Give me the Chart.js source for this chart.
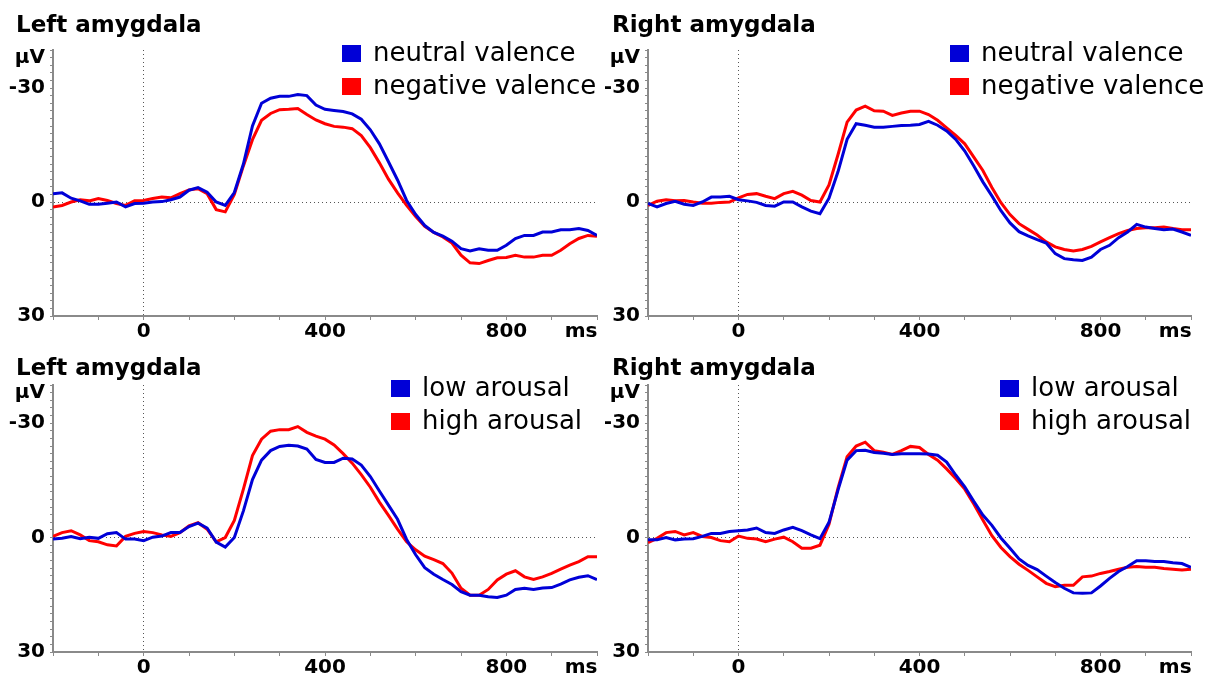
<!DOCTYPE html>
<html>
<head>
<meta charset="utf-8">
<script src="https://cdn.jsdelivr.net/npm/chart.js@4.4.1/dist/chart.umd.min.js"></script>
<style>
  html, body { margin: 0; padding: 0; background: #fff; width: 1210px; height: 678px; overflow: hidden; }
  body { position: relative; }
  canvas { position: absolute; }
</style>
</head>
<body>
<canvas id="c1" width="605" height="345" style="left:0;top:0"></canvas>
<canvas id="c2" width="605" height="345" style="left:605px;top:0"></canvas>
<canvas id="c3" width="605" height="342" style="left:0;top:336px"></canvas>
<canvas id="c4" width="605" height="342" style="left:605px;top:336px"></canvas>
<script>
// time points (ms)
const times = [-200,-180,-160,-140,-120,-100,-80,-60,-40,-20,
  0,20,40,60,80,100,120,140,160,180,
  200,220,240,260,280,300,320,340,360,380,
  400,420,440,460,480,500,520,540,560,580,
  600,620,640,660,680,700,720,740,760,780,
  800,820,840,860,880,900,920,940,960,980,1000];

// amplitudes in µV (negative up)
const leftNeutral = [-2.2,-2.4,-1.0,-0.3,0.6,0.6,0.3,0,1.3,0.4,
  0.3,0,-0.1,-0.6,-1.3,-3.1,-3.8,-2.6,0,0.9,
  -2.5,-10,-20,-26,-27.3,-27.8,-27.8,-28.3,-28,-25.5,
  -24.4,-24.1,-23.8,-23.2,-21.8,-19,-15.3,-10.6,-5.8,-0.4,
  3.3,6.2,8,9,10.3,12.3,12.9,12.3,12.7,12.7,
  11.4,9.6,8.8,8.8,7.9,7.9,7.3,7.3,7,7.5,8.8];
const leftNegative = [1.3,0.9,0,-0.6,-0.3,-0.9,-0.4,0.4,0.9,-0.3,
  -0.4,-0.9,-1.3,-1.1,-2.2,-3.2,-3.5,-2.2,2.0,2.6,
  -2,-9.5,-16.4,-21.5,-23.3,-24.3,-24.4,-24.6,-23,-21.6,
  -20.6,-19.9,-19.7,-19.3,-17.5,-14.3,-10.3,-6,-2.4,0.9,
  3.8,6.4,8,9.2,10.8,14,16,16.2,15.4,14.7,
  14.6,14,14.5,14.5,14,14,12.7,11,9.6,8.8,9];
const rightNeutral = [0.4,1.3,0.4,-0.2,0.6,0.9,0,-1.3,-1.3,-1.5,
  -0.6,-0.3,0.1,0.9,1.1,0,0,1.3,2.4,3.1,
  -1,-8,-16.5,-20.6,-20.2,-19.7,-19.7,-19.9,-20.1,-20.2,
  -20.4,-21.2,-20.2,-18.7,-16.5,-13.4,-9.5,-5.3,-1.6,2.3,
  5.5,7.8,8.9,9.9,10.8,13.6,14.9,15.2,15.4,14.5,
  12.5,11.4,9.4,7.9,5.9,6.6,7,7.3,7.1,7.9,8.8];
const rightNegative = [0.9,-0.2,-0.6,-0.3,-0.4,0,0.3,0.3,0.1,0,
  -1.1,-2,-2.2,-1.5,-0.9,-2.2,-2.8,-1.8,-0.4,0,
  -4.5,-12.5,-21,-24.2,-25.2,-24,-23.9,-22.8,-23.4,-23.9,
  -23.9,-23,-21.5,-19.5,-17.5,-15.3,-11.8,-8.3,-3.8,0.2,
  3.3,5.7,7.2,8.7,10.5,11.8,12.5,12.9,12.5,11.7,
  10.5,9.4,8.3,7.5,7,6.8,6.8,6.6,7,7.3,7.3];
const leftLow = [0.4,0.2,-0.3,0.3,-0.1,0.2,-1,-1.3,0.4,0.4,
  0.8,-0.1,-0.4,-1.3,-1.3,-2.9,-3.8,-2.5,1.2,2.5,
  0,-7,-15.2,-20.3,-22.8,-23.9,-24.2,-24,-23.2,-20.5,
  -19.7,-19.7,-20.8,-20.6,-19,-16,-12.2,-8.5,-4.8,0.5,
  4.5,7.9,9.6,11,12.3,14.2,15.1,15.1,15.5,15.7,
  15.1,13.6,13.3,13.6,13.2,13.1,12.2,11.1,10.4,10,11];
const leftHigh = [-0.3,-1.3,-1.8,-0.7,0.8,1.1,1.9,2.2,-0.3,-1.1,
  -1.6,-1.3,-0.7,-0.3,-1.3,-3.1,-3.9,-2.2,1.1,0,
  -4.5,-12.7,-21.5,-25.8,-27.9,-28.3,-28.3,-29.1,-27.6,-26.6,
  -25.8,-24.3,-22,-19.5,-16.5,-13.2,-9.3,-5.8,-2.2,1.1,
  3.2,4.9,5.8,6.8,9.3,13.3,15.1,15.1,13.6,11.1,
  9.6,8.7,10.3,11,10.3,9.4,8.3,7.2,6.3,5,5];
const rightLow = [0.6,0.6,0,0.6,0.4,0.3,-0.3,-1.1,-1.1,-1.6,
  -1.8,-2,-2.5,-1.3,-1.1,-2,-2.7,-1.8,-0.7,0.3,
  -4,-12.5,-20.3,-22.8,-22.9,-22.3,-22.1,-21.8,-22,-22,
  -22,-21.9,-21.6,-19.8,-16.4,-13.3,-9.5,-5.9,-3.2,0.1,
  2.8,5.6,7.3,8.4,10.1,11.8,13.3,14.5,14.6,14.5,
  12.7,10.7,8.9,7.6,6.1,6.1,6.3,6.3,6.6,6.8,7.8];
const rightHigh = [1.3,0.2,-1.3,-1.6,-0.7,-1.3,-0.3,0,0.8,1.1,
  -0.4,0.2,0.4,1.1,0.4,-0.1,1.1,2.8,2.8,2.0,
  -3.5,-13,-21.2,-24,-25,-22.8,-22.4,-21.8,-22.8,-23.9,
  -23.6,-21.8,-20.3,-18,-15.5,-12.7,-8.8,-4.6,-0.5,2.6,
  5,7,8.6,10.3,12,12.9,12.5,12.5,10.3,10.1,
  9.4,8.9,8.3,7.8,7.6,7.8,7.8,8.1,8.3,8.5,8.3];

const valenceLabels = ['neutral valence', 'negative valence'];
const arousalLabels = ['low arousal', 'high arousal'];

// axis ticks
const xTickValues = [-200,-100,0,100,200,300,400,500,600,700,800,900,965,1000];
const xLabelValues = [0, 400, 800];
const xUnit = 'ms', xUnitAt = 965;
const yLabelValues = [-30, 0, 30];
const yUnit = 'µV', yUnitAt = -38;
const yMin = -40, yMax = 30;

const BLUE = 'rgb(0,0,215)';
const RED = 'rgb(255,0,0)';
const AXIS = '#8a8a8a';
const FONT = '"DejaVu Sans", sans-serif';

// panel title plus a legend with filled squares inside the plot area
const panelText = {
  id: 'panelText',
  afterDatasetsDraw(chart, args, opts) {
    const ctx = chart.ctx;
    const top = chart.chartArea.top;
    ctx.save();
    ctx.fillStyle = '#000';
    ctx.textBaseline = 'alphabetic';
    ctx.font = 'bold 23px ' + FONT;
    ctx.fillText(opts.title, opts.titleX, opts.titleY);
    ctx.font = '26px ' + FONT;
    ctx.textBaseline = 'middle';
    chart.data.datasets.forEach((ds, i) => {
      const cy = top + 3 + i * 33;
      ctx.fillStyle = ds.borderColor;
      ctx.fillRect(opts.legendX, cy - 8, 19, 17);
      ctx.fillStyle = '#000';
      ctx.fillText(ds.label, opts.legendX + 31, cy + 1);
    });
    ctx.restore();
  }
};

function makePanel(cfg) {
  return new Chart(document.getElementById(cfg.id), {
    type: 'line',
    data: {
      labels: times,
      datasets: [
        { label: cfg.labels[0], data: cfg.series[0], borderColor: BLUE, backgroundColor: BLUE },
        { label: cfg.labels[1], data: cfg.series[1], borderColor: RED, backgroundColor: RED }
      ].map(d => Object.assign(d, {
        data: d.data.map((v, i) => ({ x: times[i], y: v })),
        borderWidth: 3, pointRadius: 0, tension: 0, fill: false
      }))
    },
    options: {
      responsive: false,
      animation: false,
      layout: { padding: { left: 0, right: cfg.padRight, top: cfg.padTop, bottom: 0 } },
      plugins: {
        legend: { display: false },
        tooltip: { enabled: false },
        title: { display: false },
        panelText: { title: cfg.title, titleX: cfg.titleX, titleY: cfg.titleY, legendX: cfg.legendX }
      },
      scales: {
        x: {
          type: 'linear', min: -200, max: 1000,
          afterBuildTicks: s => { s.ticks = xTickValues.map(v => ({ value: v })); },
          afterFit: s => { s.height = cfg.xHeight; },
          border: { color: AXIS, width: 2, dash: [1, 3] },
          grid: {
            drawOnChartArea: true, lineWidth: 1, tickLength: 4, tickWidth: 1,
            color: c => (c.tick && c.tick.value === 0) ? '#555' : 'rgba(0,0,0,0)',
            tickColor: c => (c.tick && c.tick.value % 100 === 0) ? AXIS : 'rgba(0,0,0,0)'
          },
          ticks: {
            autoSkip: false, maxRotation: 0, padding: 0, color: '#000',
            font: { family: FONT, size: 20, weight: 'bold' },
            callback: v => v === xUnitAt ? xUnit : (xLabelValues.includes(v) ? String(v) : '')
          }
        },
        y: {
          type: 'linear', min: yMin, max: yMax, reverse: true,
          afterFit: s => { s.width = cfg.yWidth; },
          border: { color: AXIS, width: 2, dash: [1, 3] },
          grid: {
            drawOnChartArea: true, lineWidth: 1, tickLength: 3, tickWidth: 1,
            color: c => (c.tick && c.tick.value === 0) ? '#555' : 'rgba(0,0,0,0)',
            tickColor: AXIS
          },
          ticks: {
            stepSize: 2, autoSkip: false, padding: 5, color: '#000',
            font: { family: FONT, size: 20, weight: 'bold' },
            callback: v => v === yUnitAt ? yUnit : (yLabelValues.includes(v) ? String(v) : '')
          }
        }
      }
    },
    plugins: [panelText]
  });
}

makePanel({ id: 'c1', title: 'Left amygdala', labels: valenceLabels, series: [leftNeutral, leftNegative],
  yWidth: 53, padRight: 8, padTop: 50, xHeight: 29, titleX: 16, titleY: 32, legendX: 342 });
makePanel({ id: 'c2', title: 'Right amygdala', labels: valenceLabels, series: [rightNeutral, rightNegative],
  yWidth: 43, padRight: 19, padTop: 50, xHeight: 29, titleX: 7, titleY: 32, legendX: 345 });
makePanel({ id: 'c3', title: 'Left amygdala', labels: arousalLabels, series: [leftLow, leftHigh],
  yWidth: 53, padRight: 8, padTop: 49, xHeight: 26, titleX: 16, titleY: 39, legendX: 391 });
makePanel({ id: 'c4', title: 'Right amygdala', labels: arousalLabels, series: [rightLow, rightHigh],
  yWidth: 43, padRight: 19, padTop: 49, xHeight: 26, titleX: 7, titleY: 39, legendX: 395 });
</script>
</body>
</html>
